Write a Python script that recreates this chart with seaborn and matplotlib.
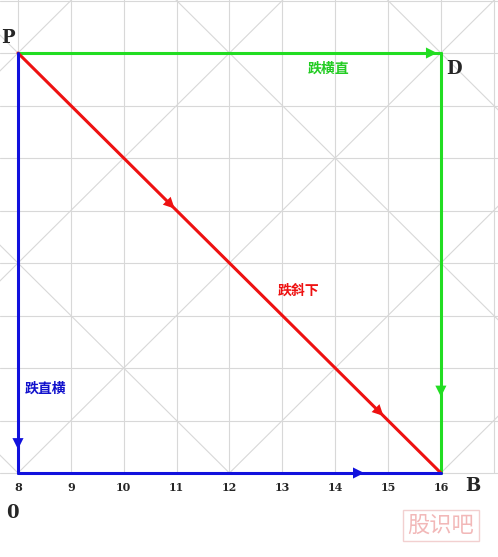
import numpy as np
import matplotlib.pyplot as plt
import seaborn as sns

# time axis labels
ticks = [8, 9, 10, 11, 12, 13, 14, 15, 16]
# path segments (x, y): P -> D -> B, P -> B, P -> 0 -> B
green_segs = [([8, 16], [8, 8]), ([16, 16], [8, 0])]
red_segs = [([8, 16], [8, 0])]
blue_segs = [([8, 8], [8, 0]), ([8, 16], [0, 0])]

sns.set_style("white")
plt.rcParams['font.family'] = ['Noto Sans CJK SC', 'DejaVu Sans']

fig = plt.figure(figsize=(4.98, 5.57), dpi=100)
ax = fig.add_axes([0, 0, 1, 1])
ax.set_xlim(7.66, 17.08)
ax.set_ylim(-1.6, 9.01)
ax.axis('off')

# background grid (above the time axis)
gc = '#d8d8d8'
for v in range(7, 18):
    ax.plot([v, v], [0, 9.2], color=gc, lw=0.8, zorder=0)
for h in range(0, 10):
    ax.axhline(h, color=gc, lw=0.8, zorder=0)
xs = np.linspace(0, 30, 301)
for c in range(-20, 30, 4):
    for ys in (xs - c, c + 8 - xs):
        yy = np.where(ys >= 0, ys, np.nan)
        ax.plot(xs, yy, color=gc, lw=0.8, zorder=0)

def draw(segs, c):
    for sx, sy in segs:
        sns.lineplot(x=sx, y=sy, sort=False, estimator=None, color=c, lw=2.2, ax=ax)

draw(green_segs, '#22dd22')
draw(red_segs, '#ee1111')
draw(blue_segs, '#1111dd')

def arrow(x0, y0, x1, y1, c):
    ax.annotate('', xy=(x1, y1), xytext=(x0, y0),
                arrowprops=dict(arrowstyle='-|>', color=c, lw=0, mutation_scale=20))

arrow(15.6, 8, 15.98, 8, '#22dd22')
arrow(16, 1.9, 16, 1.4, '#22dd22')
arrow(10.6, 5.4, 11.0, 5.0, '#ee1111')
arrow(14.6, 1.4, 14.95, 1.05, '#ee1111')
arrow(8, 0.9, 8, 0.4, '#1111dd')
arrow(14.2, 0, 14.6, 0, '#1111dd')

for t in ticks:
    ax.text(t, -0.28, str(t), ha='center', va='center', fontsize=8,
            fontweight='bold', family='DejaVu Serif')

ax.text(7.68, 8.2, 'P', fontsize=13, fontweight='bold', family='DejaVu Serif')
ax.text(16.1, 7.6, 'D', fontsize=13, fontweight='bold', family='DejaVu Serif')
ax.text(16.45, -0.35, 'B', fontsize=13, fontweight='bold', family='DejaVu Serif')
ax.text(7.78, -0.85, '0', fontsize=13, fontweight='bold', family='DejaVu Serif')

ax.text(13.88, 7.62, '跌横直', color='#22cc22', fontsize=10, fontweight='bold', ha='center')
ax.text(13.3, 3.4, '跌斜下', color='#ee1111', fontsize=10, fontweight='bold', ha='center')
ax.text(8.52, 1.52, '跌直横', color='#1111cc', fontsize=10, fontweight='bold', ha='center')

ax.text(16.0, -1.0, '股识吧', color='#f2b8b8', fontsize=16, ha='center', va='center',
        bbox=dict(facecolor='white', edgecolor='#f2d0d0', pad=3))

fig.savefig('out.png', dpi=100)
